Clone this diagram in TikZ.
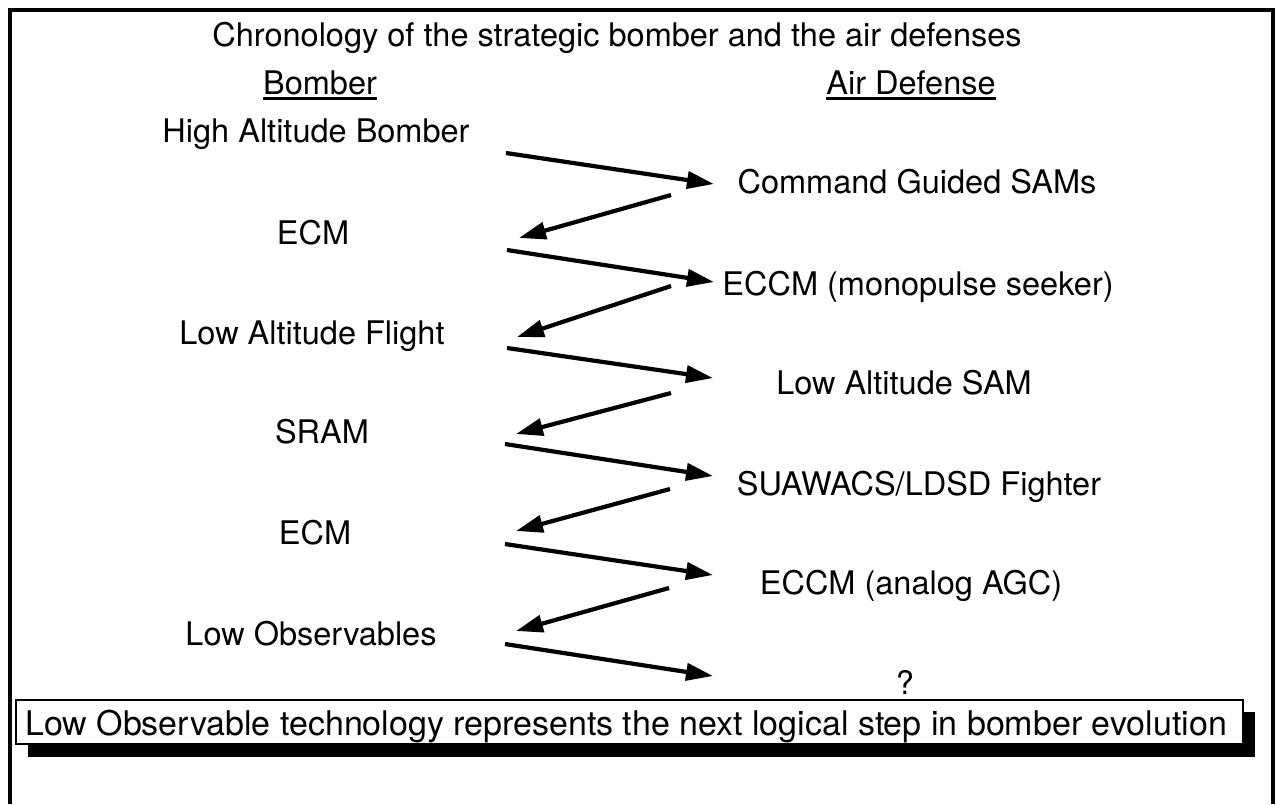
\documentclass[tikz,border=0pt]{standalone}
\usepackage{fontspec}
\setmainfont{TeX Gyre Heros}
\usetikzlibrary{arrows.meta}
\tikzset{
  lbl/.style={anchor=base, inner sep=0pt, font=\fontsize{32.5}{38}\selectfont},
  arr/.style={line width=4.2pt, -{Triangle[length=27pt,width=17pt]}},
  uline/.style={line width=3pt},
  frame/.style={line width=3.8pt}
}
\begin{document}
\begin{tikzpicture}[x=1pt,y=-1pt]
\useasboundingbox (0,0) rectangle (1276,804);
% outer frame (open at bottom)
\draw[frame] (10,804) -- (10,10) -- (1273,10) -- (1273,804);
% title and headers
\node[lbl] (title) at (617,46) {Chronology of the strategic bomber and the air defenses};
\node[lbl] (bomber) at (320,94) {Bomber};
\node[lbl] (airdef) at (911,94) {Air Defense};
\draw[uline] ([yshift=-4pt]bomber.base west) -- ([yshift=-4pt]bomber.base east);
\draw[uline] ([yshift=-4pt]airdef.base west) -- ([yshift=-4pt]airdef.base east);
% left column
\node[lbl] (b1) at (316,142) {High Altitude Bomber};
\node[lbl] (b2) at (313,244) {ECM};
\node[lbl] (b3) at (312,344) {Low Altitude Flight};
\node[lbl] (b4) at (322,443) {SRAM};
\node[lbl] (b5) at (315,544) {ECM};
\node[lbl] (b6) at (311,645) {Low Observables};
% right column
\node[lbl] (d1) at (917,193) {Command Guided SAMs};
\node[lbl] (d2) at (918,295) {ECCM (monopulse seeker)};
\node[lbl] (d3) at (904,394) {Low Altitude SAM};
\node[lbl] (d4) at (919,495) {SUAWACS/LDSD Fighter};
\node[lbl] (d5) at (911,594) {ECCM (analog AGC)};
\node[lbl] (d6) at (905,694) {?};
% arrow end points
\coordinate (s1) at (506,153); \coordinate (t1) at (714,184);
\coordinate (s2) at (671,195); \coordinate (t2) at (519,238);
\coordinate (s3) at (507,250); \coordinate (t3) at (714,282);
\coordinate (s4) at (671,286); \coordinate (t4) at (517,337);
\coordinate (s5) at (507,348); \coordinate (t5) at (713,378);
\coordinate (s6) at (671,393); \coordinate (t6) at (516,434);
\coordinate (s7) at (505,444); \coordinate (t7) at (713,476);
\coordinate (s8) at (670,489); \coordinate (t8) at (516,531);
\coordinate (s9) at (505,544); \coordinate (t9) at (713,575);
\coordinate (s10) at (669,588); \coordinate (t10) at (516,631);
\coordinate (s11) at (505,644); \coordinate (t11) at (713,676);
\foreach \i in {1,...,11} { \draw[arr] (s\i) -- (t\i); }
% conclusion box with shadow
\fill (28,712) rectangle (1255,757);
\draw[line width=2.2pt, fill=white] (16,700) rectangle (1243,744);
\node[lbl, font=\fontsize{34}{40}\selectfont] (concl) at (626,735) {Low Observable technology represents the next logical step in bomber evolution};
\end{tikzpicture}
\end{document}
